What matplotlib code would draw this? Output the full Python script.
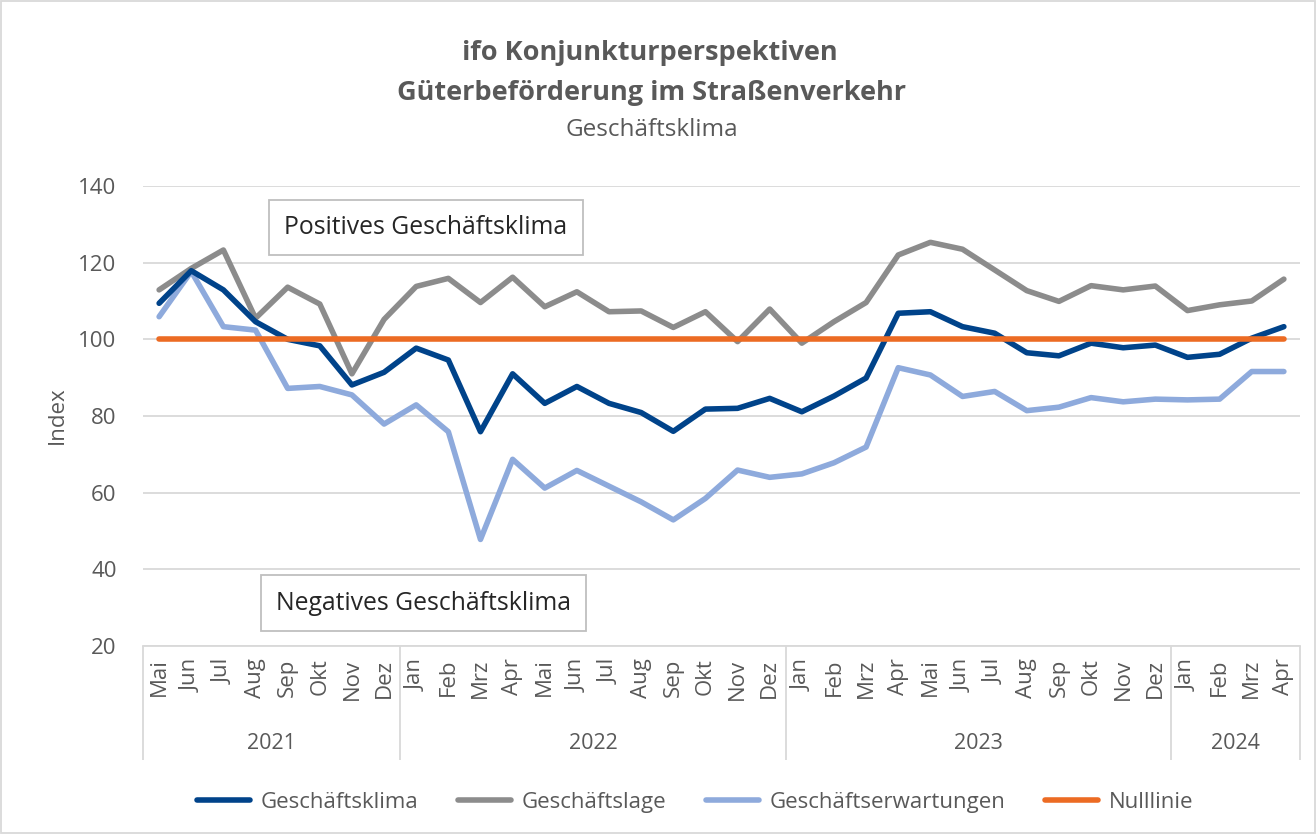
import numpy as np
import matplotlib.pyplot as plt
from matplotlib.patches import Rectangle

plt.rcParams['font.family'] = ['Open Sans', 'DejaVu Sans']

# Monate Mai 2021 bis Apr 2024
months = ['Mai', 'Jun', 'Jul', 'Aug', 'Sep', 'Okt', 'Nov', 'Dez',
          'Jan', 'Feb', 'Mrz', 'Apr', 'Mai', 'Jun', 'Jul', 'Aug', 'Sep', 'Okt', 'Nov', 'Dez',
          'Jan', 'Feb', 'Mrz', 'Apr', 'Mai', 'Jun', 'Jul', 'Aug', 'Sep', 'Okt', 'Nov', 'Dez',
          'Jan', 'Feb', 'Mrz', 'Apr']
years = ['2021', '2022', '2023', '2024']
months_per_year = [8, 12, 12, 4]

klima = [109.4, 117.9, 112.9, 104.6, 100.0, 98.3, 88.1, 91.4,
         97.7, 94.6, 75.9, 91.0, 83.3, 87.7, 83.3, 80.9, 76.0, 81.8, 82.0, 84.6,
         81.1, 85.2, 89.9, 106.8, 107.2, 103.3, 101.6, 96.5, 95.7, 99.0, 97.8, 98.5,
         95.3, 96.1, 100.3, 103.3]
lage = [112.9, 118.5, 123.3, 105.5, 113.6, 109.2, 91.0, 105.2,
        113.8, 115.9, 109.6, 116.2, 108.5, 112.4, 107.2, 107.4, 103.1, 107.2, 99.4, 107.9,
        99.0, 104.6, 109.6, 122.0, 125.3, 123.5, 118.1, 112.7, 109.9, 114.0, 112.9, 113.9,
        107.5, 109.0, 110.0, 115.7]
erwartungen = [105.9, 117.7, 103.3, 102.4, 87.2, 87.7, 85.5, 77.9,
               82.9, 75.9, 47.8, 68.7, 61.2, 65.8, 61.7, 57.6, 52.9, 58.5, 65.9, 64.0,
               64.9, 67.8, 71.9, 92.6, 90.7, 85.1, 86.4, 81.4, 82.3, 84.8, 83.7, 84.4,
               84.2, 84.4, 91.6, 91.6]
nulllinie = [100] * len(months)

text_col = '#595959'
grid_col = '#d9d9d9'

fig = plt.figure(figsize=(13.16, 8.34), dpi=100)
ax = fig.add_axes([0.1087, 0.2254, 0.8791, 0.5516])

x = np.arange(len(months))
ax.plot(x, klima, color='#00438a', lw=4, label='Geschäftsklima', solid_capstyle='round', zorder=4)
ax.plot(x, lage, color='#8c8c8c', lw=4, label='Geschäftslage', solid_capstyle='round', zorder=3)
ax.plot(x, erwartungen, color='#8eaadc', lw=4, label='Geschäftserwartungen', solid_capstyle='round', zorder=3)
ax.plot(x, nulllinie, color='#ec6b23', lw=4, label='Nulllinie', solid_capstyle='round', zorder=5)

ax.set_xlim(-0.5, len(months) - 0.5)
ax.set_ylim(20, 140)
ax.set_yticks(np.arange(20, 141, 20))
ax.yaxis.grid(True, color=grid_col, lw=1.3)
ax.set_axisbelow(True)
for s in ['left', 'right', 'top']:
    ax.spines[s].set_visible(False)
ax.spines['bottom'].set_color(grid_col)
ax.spines['bottom'].set_linewidth(1.3)
ax.tick_params(axis='y', length=0, labelsize=16, labelcolor=text_col, pad=19)
ax.set_xticks(x)
ax.set_xticklabels(months, rotation=90, fontsize=16, color=text_col)
ax.tick_params(axis='x', length=0, pad=9)
fig.text(0.0433, 0.502, 'Index', rotation=90, ha='center', va='center',
         fontsize=16, color=text_col)

# Jahresgruppen unter den Monaten
trans = ax.get_xaxis_transform()
edges = np.concatenate([[0], np.cumsum(months_per_year)]) - 0.5
ax.vlines(edges, -0.248, 0, transform=trans, clip_on=False, color=grid_col, lw=1.3)
for i, yr in enumerate(years):
    ax.text((edges[i] + edges[i + 1]) / 2, -0.212, yr, transform=trans,
            ha='center', va='center', fontsize=15.5, color=text_col)

box = dict(boxstyle='square,pad=0.62', fc='white', ec='#bfbfbf', lw=1.3)
ax.text(8.3, 129.2, 'Positives Geschäftsklima', ha='center', va='center',
        fontsize=17.8, color='#262626', bbox=box, zorder=6)
ax.text(8.23, 31.2, 'Negatives Geschäftsklima', ha='center', va='center',
        fontsize=17.8, color='#262626', bbox=box, zorder=6)

fig.text(0.494, 0.937, 'ifo Konjunkturperspektiven', ha='center', va='center',
         fontsize=19.5, fontweight='bold', color=text_col)
fig.text(0.495, 0.888, 'Güterbeförderung im Straßenverkehr', ha='center', va='center',
         fontsize=19.5, fontweight='bold', color=text_col)
fig.text(0.495, 0.844, 'Geschäftsklima', ha='center', va='center',
         fontsize=17.5, color=text_col)

fig.legend(loc='center', bbox_to_anchor=(0.528, 0.038), ncol=4, frameon=False,
           fontsize=16, handlelength=2.4, columnspacing=1.8, handletextpad=0.45,
           labelcolor=text_col)

fig.patches.append(Rectangle((0.001, 0.001), 0.998, 0.998, transform=fig.transFigure,
                             fill=False, ec=grid_col, lw=1.3))

fig.savefig('out.png', dpi=100)
